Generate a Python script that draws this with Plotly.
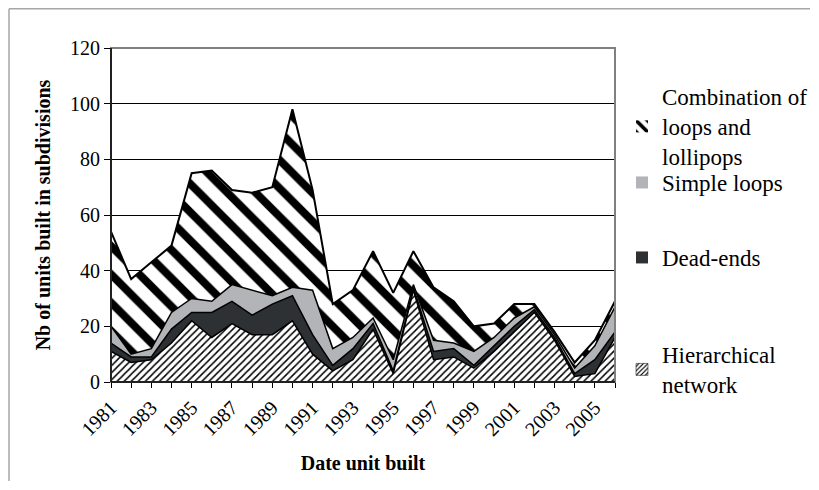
import plotly.graph_objects as go

years = list(range(1981, 2007))
hierarchical = [11, 7, 8, 14, 22, 16, 21, 17, 17, 22, 10, 4, 8, 19, 3, 33, 8, 9, 5, 11, 18, 25, 15, 2, 3, 16]
dead_ends    = [3, 2, 1, 5, 3, 9, 8, 7, 11, 9, 7, 2, 4, 2, 1, 1, 3, 3, 1, 2, 2, 1, 1, 1, 5, 2]
simple_loops = [6, 1, 3, 6, 5, 4, 6, 9, 3, 3, 16, 6, 4, 2, 4, 1, 4, 2, 5, 3, 3, 1, 1, 2, 5, 9]
combination  = [34, 27, 31, 24, 45, 47, 34, 35, 39, 64, 36, 16, 17, 24, 24, 12, 19, 15, 9, 5, 5, 1, 1, 2, 2, 2]
tick_labels = [str(y) if (y - 1981) % 2 == 0 else "" for y in years]
y_ticks = [0, 20, 40, 60, 80, 100, 120]

FONT = "Liberation Serif"
OFF = 8  # page body margin
W, H = 819 - 2 * OFF, 490 - 2 * OFF
L, T = 111 - OFF, 48 - OFF
R = W - (615 - OFF)
B = H - (382 - OFF)
pw, ph = W - L - R, H - T - B

def px_x(x):  # page pixel -> paper
    return (x - OFF - L) / pw

def px_y(y):
    return (H - B - (y - OFF)) / ph

hatch_h = dict(shape="/", size=5, solidity=0.3, fgcolor="black", bgcolor="white", fgopacity=1)
hatch_c = dict(shape="\\", size=20, solidity=0.4, fgcolor="black", bgcolor="white", fgopacity=1)

fig = go.Figure()
line = dict(color="black", width=1.5)
fig.add_trace(go.Scatter(
    x=years, y=hierarchical, name="Hierarchical network", stackgroup="s",
    mode="lines", line=line, fillcolor="white", fillpattern=hatch_h, showlegend=False))
fig.add_trace(go.Scatter(
    x=years, y=dead_ends, name="Dead-ends", stackgroup="s",
    mode="lines", line=line, fillcolor="#2e3134", showlegend=False))
fig.add_trace(go.Scatter(
    x=years, y=simple_loops, name="Simple loops", stackgroup="s",
    mode="lines", line=line, fillcolor="#b3b4b7", showlegend=False))
fig.add_trace(go.Scatter(
    x=years, y=combination, name="Combination of loops and lollipops", stackgroup="s",
    mode="lines", line=dict(color="black", width=2), fillcolor="white",
    fillpattern=hatch_c, showlegend=False))

# legend keys (square swatches)
legend_entries = [
    ("Combination of<br>loops and<br>lollipops", dict(color="white", pattern=dict(shape="\\", size=12, solidity=0.45, fgcolor="black", bgcolor="white", fgopacity=1), line=dict(width=0)), "legend"),
    ("Simple loops", dict(color="#b3b4b7", line=dict(width=0)), "legend2"),
    ("Dead-ends", dict(color="#2e3134", line=dict(width=0)), "legend3"),
    ("Hierarchical<br>network", dict(color="white", pattern=dict(shape="/", size=4, solidity=0.35, fgcolor="black", bgcolor="white", fgopacity=1), line=dict(color="black", width=0.5)), "legend4"),
]
for name, marker, lg in legend_entries:
    fig.add_trace(go.Bar(x=[None], y=[None], name=name, marker=marker, legend=lg, showlegend=True))

leg_font = dict(family=FONT, size=23, color="black")
def leg(ytop):
    return dict(x=px_x(622), y=px_y(ytop), xanchor="left", yanchor="top",
                font=leg_font, bgcolor="rgba(0,0,0,0)", itemwidth=30,
                tracegroupgap=0)

fig.update_layout(
    width=W, height=H,
    margin=dict(l=L, r=R, t=T, b=B, autoexpand=False),
    paper_bgcolor="white", plot_bgcolor="white",
    showlegend=True,
    font=dict(family=FONT, size=20, color="black"),
    legend=leg(75), legend2=leg(161), legend3=leg(236), legend4=leg(333),
    xaxis=dict(
        range=[1981, 2006], tickmode="array", tickvals=years, ticktext=tick_labels,
        tickangle=-45, ticks="outside", ticklen=5, tickcolor="black",
        showline=True, linecolor="black", linewidth=1, showgrid=False, zeroline=False,
        tickfont=dict(family=FONT, size=20),
        title=dict(text="<b>Date unit built</b>", font=dict(family=FONT, size=20), standoff=16),
        automargin=False,
    ),
    yaxis=dict(
        range=[0, 120], tickmode="array", tickvals=y_ticks,
        ticks="outside", ticklen=6, tickcolor="black",
        showline=True, linecolor="black", linewidth=1,
        showgrid=True, gridcolor="black", gridwidth=1, zeroline=False,
        tickfont=dict(family=FONT, size=20),
        title=dict(text="<b>Nb of units built in subdivisions</b>", font=dict(family=FONT, size=20), standoff=14),
        automargin=False,
    ),
    shapes=[
        dict(type="rect", xref="paper", yref="paper", x0=0, x1=1, y0=0, y1=1,
             line=dict(color="#808080", width=2), layer="above"),
        dict(type="line", xref="paper", yref="paper", x0=0, x1=0, y0=0, y1=1,
             line=dict(color="black", width=1.5), layer="above"),
        dict(type="line", xref="paper", yref="paper", x0=0, x1=1, y0=0, y1=0,
             line=dict(color="black", width=1.5), layer="above"),
        dict(type="line", xref="paper", yref="paper", x0=px_x(9), x1=px_x(9),
             y0=px_y(481), y1=px_y(8.8), line=dict(color="#a6a6a6", width=1.5), layer="below"),
        dict(type="line", xref="paper", yref="paper", x0=px_x(9), x1=px_x(810),
             y0=px_y(8.8), y1=px_y(8.8), line=dict(color="#a6a6a6", width=1.5), layer="below"),
    ],
)

fig.write_html("out.html")
